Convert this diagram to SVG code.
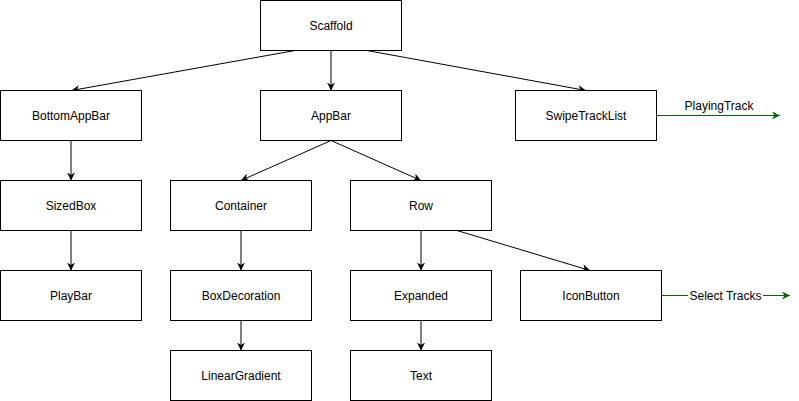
<svg xmlns="http://www.w3.org/2000/svg" width="799" height="401" viewBox="0 0 799 401">
<style>
.n rect{fill:#fff;stroke:#000;stroke-width:1}
text{font-family:"Liberation Sans",Arial,sans-serif;font-size:12px;text-anchor:middle;fill:#000}
.e{fill:none;stroke:#000;stroke-width:1}
.g{fill:none;stroke:#006600;stroke-width:1}
</style>
<defs>
<marker id="a" viewBox="0 0 10 10" refX="10" refY="5" markerWidth="8" markerHeight="8" markerUnits="userSpaceOnUse" orient="auto"><path d="M0,0 L10,5 L0,10 L3,5 z" fill="#000"/></marker>
<marker id="ag" viewBox="0 0 10 10" refX="10" refY="5" markerWidth="8" markerHeight="8" markerUnits="userSpaceOnUse" orient="auto"><path d="M0,0 L10,5 L0,10 L3,5 z" fill="#006600"/></marker>
</defs>
<rect width="799" height="401" fill="#fff"/>
<g id="connectors">
<path class="e" d="M295,50.5 L71.5,90.5" marker-end="url(#a)"/>
<path class="e" d="M331,50.5 L331,90.5" marker-end="url(#a)"/>
<path class="e" d="M367,50.5 L586,90.5" marker-end="url(#a)"/>
<path class="e" d="M71,140.5 L71,180.5" marker-end="url(#a)"/>
<path class="e" d="M71,230.5 L71,270.5" marker-end="url(#a)"/>
<path class="e" d="M331,140.5 L241,180.5" marker-end="url(#a)"/>
<path class="e" d="M331,140.5 L421,180.5" marker-end="url(#a)"/>
<path class="e" d="M241,230.5 L241,270.5" marker-end="url(#a)"/>
<path class="e" d="M241,320.5 L241,350.5" marker-end="url(#a)"/>
<path class="e" d="M421,230.5 L421,270.5" marker-end="url(#a)"/>
<path class="e" d="M421,320.5 L421,350.5" marker-end="url(#a)"/>
<path class="e" d="M457,230.5 L590,270.5" marker-end="url(#a)"/>
<path class="g" d="M656.5,115.5 L780,115.5" marker-end="url(#ag)"/>
<text x="719" y="110">PlayingTrack</text>
<path class="g" d="M661.5,295.5 L790,295.5" marker-end="url(#ag)"/>
<rect x="688" y="288" width="75" height="15" fill="#fff"/>
<text x="725.5" y="300">Select Tracks</text>
</g>
<g id="scaffold" class="n"><rect x="260.5" y="0.5" width="141" height="50"/><text x="331" y="29.5">Scaffold</text></g>
<g id="bottomappbar" class="n"><rect x="0.5" y="90.5" width="141" height="50"/><text x="71" y="119.5">BottomAppBar</text></g>
<g id="appbar" class="n"><rect x="260.5" y="90.5" width="141" height="50"/><text x="331" y="119.5">AppBar</text></g>
<g id="swipetracklist" class="n"><rect x="515.5" y="90.5" width="141" height="50"/><text x="586" y="119.5">SwipeTrackList</text></g>
<g id="sizedbox" class="n"><rect x="0.5" y="180.5" width="141" height="50"/><text x="71" y="209.5">SizedBox</text></g>
<g id="container" class="n"><rect x="170.5" y="180.5" width="141" height="50"/><text x="241" y="209.5">Container</text></g>
<g id="row" class="n"><rect x="350.5" y="180.5" width="141" height="50"/><text x="421" y="209.5">Row</text></g>
<g id="playbar" class="n"><rect x="0.5" y="270.5" width="141" height="50"/><text x="71" y="299.5">PlayBar</text></g>
<g id="boxdecoration" class="n"><rect x="170.5" y="270.5" width="141" height="50"/><text x="241" y="299.5">BoxDecoration</text></g>
<g id="expanded" class="n"><rect x="350.5" y="270.5" width="141" height="50"/><text x="421" y="299.5">Expanded</text></g>
<g id="iconbutton" class="n"><rect x="520.5" y="270.5" width="141" height="50"/><text x="591" y="299.5">IconButton</text></g>
<g id="lineargradient" class="n"><rect x="170.5" y="350.5" width="141" height="50"/><text x="241" y="379.5">LinearGradient</text></g>
<g id="text" class="n"><rect x="350.5" y="350.5" width="141" height="50"/><text x="421" y="379.5">Text</text></g>
</svg>
